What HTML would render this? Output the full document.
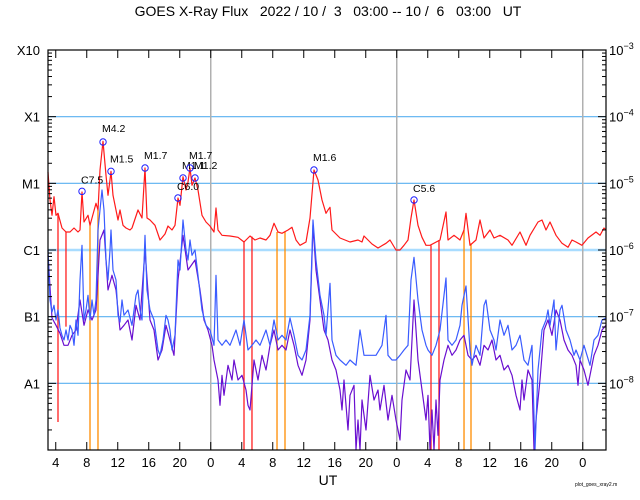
<!DOCTYPE html>
<html><head><meta charset="utf-8"><style>
html,body{margin:0;padding:0;background:#fff;width:640px;height:500px;overflow:hidden}
svg{display:block;font-family:"Liberation Sans",sans-serif}
</style></head><body>
<svg id="chart" width="640" height="500" viewBox="0 0 640 500" xmlns="http://www.w3.org/2000/svg">
<text x="328" y="45" text-anchor="middle" font-size="14" xml:space="preserve" transform="translate(0,-29)">GOES X-Ray Flux   2022 / 10 /  3   03:00 -- 10 /  6   03:00   UT</text>
<g id="grid"></g>
<g id="series"></g>
<g id="axes"></g>
<text x="328" y="485" text-anchor="middle" font-size="14">UT</text>
<text x="575" y="486" font-size="5">plot_goes_xray2.m</text>
</svg>
<script>
// times in hours since 10/3 03:00 UT, values are log10(flux W/m^2)
const longT=[0,.26,.52,.77,1.03,1.29,1.81,2.32,2.84,3.35,3.87,4.13,4.39,4.65,5.16,5.42,5.68,6.19,6.45,6.71,7.10,7.48,7.74,8.00,8.13,8.39,9.03,9.29,9.68,10.06,10.58,10.84,11.61,12.13,12.52,12.77,13.16,13.81,14.45,15.10,15.48,16.00,16.39,16.77,17.03,17.42,17.81,18.06,18.32,18.58,18.97,19.35,19.87,20.39,20.90,21.42,21.68,21.94,22.45,23.48,24.52,25.29,26.06,26.71,27.35,28.13,28.65,29.16,29.68,30.19,30.97,31.48,32.00,32.52,33.29,33.81,34.32,34.84,35.35,35.87,36.13,36.39,36.65,37.68,38.97,40.00,40.52,40.77,41.29,41.81,42.58,43.61,44.13,44.90,45.42,45.94,46.45,46.84,47.23,47.74,48.26,48.77,49.29,50.58,51.35,51.61,52.39,53.16,53.68,53.94,54.45,55.23,55.74,56.26,57.03,57.55,58.32,59.35,59.87,60.90,61.68,62.19,63.23,63.74,64.26,64.77,65.55,66.32,67.10,67.61,68.13,68.90,69.68,70.71,71.23,71.74,72.00];
const longV=[-4.83,-5.25,-5.48,-5.2,-5.48,-5.45,-5.67,-5.73,-5.73,-5.67,-5.73,-5.70,-5.13,-5.58,-5.48,-5.63,-5.52,-5.30,-5.40,-4.80,-4.37,-4.88,-5.18,-4.95,-4.82,-5.18,-5.55,-5.40,-5.63,-5.67,-5.70,-5.67,-5.40,-5.52,-4.77,-5.52,-5.55,-5.63,-5.85,-5.76,-5.64,-5.70,-5.63,-5.22,-5.33,-4.9,-5.10,-4.98,-4.77,-5.03,-4.92,-5.10,-5.48,-5.58,-5.64,-5.73,-5.37,-5.70,-5.78,-5.79,-5.81,-5.88,-5.79,-5.85,-5.82,-5.85,-5.78,-5.60,-5.73,-5.75,-5.70,-5.66,-5.85,-5.93,-5.88,-5.52,-4.80,-4.95,-5.25,-5.45,-5.40,-5.36,-5.70,-5.82,-5.88,-5.85,-5.88,-5.79,-5.85,-5.91,-5.97,-5.90,-5.85,-6.00,-6.00,-5.93,-5.85,-5.52,-5.25,-5.63,-5.81,-5.93,-5.93,-5.85,-5.43,-5.85,-5.78,-5.85,-5.70,-5.45,-5.93,-5.85,-5.55,-5.82,-5.70,-5.82,-5.78,-5.85,-5.93,-5.73,-5.93,-5.78,-5.58,-5.55,-5.70,-5.58,-5.78,-5.90,-5.96,-5.85,-5.88,-5.93,-5.82,-5.73,-5.78,-5.67,-5.70];
const shortT=[0,.26,.52,.77,1.03,1.29,1.55,1.81,2.06,2.32,2.58,2.84,3.10,3.35,3.61,3.87,4.13,4.39,4.65,4.90,5.16,5.42,5.68,5.94,6.19,6.45,6.71,6.97,7.23,7.48,7.74,8.00,8.13,8.39,8.77,9.03,9.29,9.55,9.81,10.32,10.84,11.35,11.61,11.87,12.13,12.52,12.77,13.16,13.68,14.19,14.45,14.84,15.23,15.48,15.74,16.00,16.39,16.77,17.03,17.42,17.81,18.06,18.32,18.58,18.97,19.35,19.87,20.39,20.90,21.42,21.68,21.94,22.45,22.97,23.48,24.26,24.77,25.29,25.81,26.32,26.84,27.35,28.13,28.65,29.16,29.68,30.19,30.71,31.23,31.74,32.26,32.77,33.29,33.81,34.19,34.58,35.10,35.61,35.87,36.39,36.65,37.16,37.68,38.45,38.97,39.74,40.26,40.77,41.55,42.32,43.10,43.61,43.87,44.39,44.90,45.42,45.94,46.45,46.84,47.23,47.74,48.26,48.77,49.03,49.55,50.06,50.58,51.35,51.61,52.13,52.65,53.16,53.42,53.94,54.45,54.71,55.23,55.74,56.26,56.52,57.03,57.55,57.81,58.32,58.84,59.35,59.87,60.39,60.90,61.42,61.94,62.45,62.84,63.23,63.74,64.26,64.52,64.77,65.29,65.55,66.06,66.32,66.84,67.35,67.87,68.13,68.65,69.16,69.94,70.45,70.97,71.48,72.00];
const shortV=[-6.00,-6.75,-6.93,-6.83,-7.05,-6.90,-7.17,-7.28,-7.35,-7.20,-7.35,-7.13,-7.20,-7.43,-7.05,-7.28,-6.45,-5.93,-7.05,-6.90,-6.68,-7.05,-6.75,-6.98,-6.75,-5.70,-5.40,-5.10,-5.40,-6.15,-6.45,-6.00,-5.70,-6.30,-6.45,-6.98,-7.08,-6.75,-6.98,-6.90,-7.13,-6.68,-6.60,-6.90,-7.05,-5.78,-6.60,-6.90,-7.05,-7.50,-7.58,-7.35,-6.98,-7.05,-7.20,-7.50,-7.28,-6.15,-6.30,-5.55,-6.00,-6.15,-5.85,-6.08,-6.00,-6.38,-6.90,-7.13,-7.20,-7.43,-6.38,-7.35,-7.43,-7.35,-7.43,-7.20,-7.43,-7.05,-7.50,-7.43,-7.35,-7.43,-7.20,-7.43,-7.05,-7.35,-7.28,-7.35,-7.02,-7.28,-7.58,-7.65,-7.50,-6.98,-5.55,-6.15,-6.68,-6.98,-7.28,-6.50,-7.35,-7.58,-7.65,-7.73,-7.65,-7.73,-7.20,-7.58,-7.58,-7.58,-7.43,-6.98,-7.58,-7.65,-7.65,-7.58,-7.50,-7.43,-6.45,-6.11,-6.75,-7.20,-7.43,-7.50,-7.58,-7.43,-7.20,-6.42,-7.35,-7.43,-7.35,-7.13,-6.83,-6.54,-7.50,-7.73,-7.43,-7.58,-6.83,-6.75,-7.20,-7.35,-7.50,-7.05,-7.28,-7.13,-7.50,-7.43,-7.28,-7.65,-7.73,-7.43,-9.00,-7.80,-7.20,-7.05,-6.90,-7.13,-6.75,-7.50,-6.90,-6.83,-7.20,-7.35,-7.58,-7.50,-7.65,-7.43,-7.73,-7.35,-7.28,-7.05,-7.02];
const shortPriT=[0,.52,1.03,1.55,2.06,2.58,3.10,3.61,4.13,4.65,5.16,5.68,6.19,6.71,7.23,7.74,8.26,8.77,9.29,9.81,10.32,10.84,11.35,11.87,12.52,13.16,13.68,14.19,14.71,15.23,15.74,16.26,16.77,17.42,18.06,18.97,19.61,20.13,20.65,21.16,21.42,21.68,21.94,22.19,22.45,22.71,23.23,23.74,24.00,24.52,25.03,25.55,25.81,26.06,26.32,26.58,27.10,27.61,28.13,28.65,29.16,29.68,30.19,30.71,31.23,31.74,32.26,32.77,33.29,33.81,34.19,34.58,35.10,35.61,36.13,36.65,37.16,37.68,37.94,38.19,38.71,38.97,39.48,39.74,40.00,40.26,40.52,41.03,41.55,42.06,42.58,42.84,43.35,43.87,44.39,44.90,45.42,45.68,46.19,46.71,47.23,47.74,48.26,48.77,49.03,49.29,49.55,49.81,50.06,50.32,50.58,51.10,51.61,52.13,52.65,53.16,53.68,54.19,54.71,55.23,55.74,56.26,56.77,57.29,57.81,58.32,58.84,59.35,59.87,60.39,60.90,61.16,61.42,61.94,62.45,62.71,62.97,63.23,63.48,64.00,64.52,65.03,65.55,66.06,66.58,67.10,67.61,68.13,68.39,68.65,69.16,69.68,69.94,70.45,70.97,71.48,72.00];
const shortPriV=[-6.08,-7.02,-7.13,-7.25,-7.43,-7.43,-7.28,-7.20,-6.75,-7.13,-6.90,-7.05,-6.90,-5.85,-5.70,-6.60,-6.38,-6.60,-7.20,-7.13,-7.05,-7.35,-6.83,-7.05,-6.00,-7.05,-7.20,-7.65,-7.50,-7.13,-7.35,-7.58,-6.45,-5.78,-6.30,-6.15,-6.60,-7.05,-7.20,-7.43,-7.65,-7.80,-7.95,-8.33,-7.88,-8.18,-7.73,-7.95,-7.65,-7.95,-7.88,-8.10,-8.33,-8.40,-8.03,-7.65,-7.95,-7.58,-7.80,-7.43,-7.20,-7.50,-7.43,-7.50,-7.20,-7.43,-7.73,-7.88,-7.65,-7.05,-5.63,-6.30,-6.75,-7.20,-7.35,-7.65,-7.80,-8.10,-8.40,-7.95,-8.70,-8.18,-8.03,-9.00,-8.55,-9.00,-8.25,-8.70,-7.88,-8.25,-8.10,-8.40,-8.03,-8.55,-8.18,-8.55,-8.85,-8.25,-7.80,-7.95,-6.75,-7.65,-8.10,-8.55,-8.18,-9.00,-8.40,-9.00,-8.25,-8.78,-7.95,-7.65,-7.43,-7.58,-7.50,-7.35,-7.28,-7.58,-7.65,-7.58,-7.73,-7.43,-7.50,-7.35,-7.65,-7.58,-7.80,-7.73,-7.88,-8.18,-8.40,-7.95,-8.25,-7.80,-7.95,-9.00,-8.55,-8.25,-7.95,-7.20,-7.05,-7.28,-6.90,-7.05,-7.35,-7.50,-7.58,-7.73,-8.03,-7.65,-7.80,-8.03,-7.88,-7.58,-7.43,-7.20,-7.13];
// data-gap marks
const gapT=[1.29,2.32,5.42,6.45,25.29,26.32,29.55,30.58,49.42,50.45,53.68,54.58];
const gapTop=[-5.45,-5.73,-5.63,-5.40,-5.88,-5.80,-5.73,-5.72,-5.93,-5.85,-5.70,-5.90];
const gapBottom=[-8.58,-7.15,-9,-9,-9,-9,-9,-9,-9,-9,-9,-9];
const gapColor=["#ff2020","#ff2020","#ff8c00","#ff8c00","#ff2020","#ff2020","#ff8c00","#ff8c00","#ff2020","#ff2020","#ff8c00","#ff8c00"];
// flare peaks
const flareLabel=["C7.5","M4.2","M1.5","M1.7","C6.0","M1.1","M1.7","M1.2","M1.6","C5.6"];
const flareT=[4.39,7.10,8.13,12.52,16.77,17.42,18.32,18.97,34.32,47.23];
const flareV=[-5.12,-4.38,-4.82,-4.77,-5.22,-4.92,-4.77,-4.92,-4.80,-5.25];
const flareDy=[-8,-10,-9,-9,-8,-9,-9,-9,-9,-8];
const decadeLeft=["X10","X1","M1","C1","B1","A1"];
const decadeRight=["-3","-4","-5","-6","-7","-8"];
const hourLabels=["4","8","12","16","20","0","4","8","12","16","20","0","4","8","12","16","20","0"];

const NS="http://www.w3.org/2000/svg";
const X0=48,X1=606,Y0=50,Y1=450,TMAX=72,LMIN=-9,LMAX=-3;
const xs=t=>X0+(X1-X0)*t/TMAX;
const ys=v=>Y1-(Y1-Y0)*(v-LMIN)/(LMAX-LMIN);
function mk(tag,attrs,parent){const e=document.createElementNS(NS,tag);for(const k in attrs)e.setAttribute(k,attrs[k]);parent.appendChild(e);return e;}
const grid=document.getElementById('grid'),ser=document.getElementById('series'),ax=document.getElementById('axes');

// horizontal grid
for(let d=-8;d<=-4;d++){
  const l=mk('line',{x1:X0,x2:X1,y1:ys(d),y2:ys(d),stroke:d===-6?'#a8dcff':'#5ab0f0','stroke-width':d===-6?2.5:1.2},grid);
  
  
}
// day boundaries
[21,45,69].forEach(t=>{
  const l=mk('line',{x1:xs(t),x2:xs(t),y1:Y0,y2:Y1,stroke:'#b0b0b0','stroke-width':1.5},grid);
  
  
});

function poly(T,V,color,name,w){
  const p=mk('polyline',{points:T.map((t,i)=>xs(t).toFixed(1)+','+ys(Math.max(LMIN,V[i])).toFixed(1)).join(' '),fill:'none',stroke:color,'stroke-width':w,'stroke-linejoin':'round'},ser);
  
  
}
gapT.forEach((t,i)=>{
  const l=mk('line',{x1:xs(t),x2:xs(t),y1:ys(gapTop[i]),y2:ys(gapBottom[i]),stroke:gapColor[i],'stroke-width':1.3},ser);
  
  
});
poly(shortPriT,shortPriV,'#6a0fd0','short-channel-primary-line',1.2);
poly(shortT,shortV,'#3a5cff','short-channel-line',1.2);
poly(longT,longV,'#ff1a1a','long-channel-line',1.2);

flareT.forEach((t,i)=>{
  const c=mk('circle',{cx:xs(t),cy:ys(flareV[i]),r:3.2,fill:'none',stroke:'#2020ff','stroke-width':1},ser);
  
  
  const tx=mk('text',{x:xs(t)-1,y:ys(flareV[i])+flareDy[i],'font-size':10.5,fill:'#000'},ser);
  tx.textContent=flareLabel[i];
  
  
});

// frame
const fr=mk('rect',{x:X0,y:Y0,width:X1-X0,height:Y1-Y0,fill:'none',stroke:'#000','stroke-width':1.2},ax);


// y ticks
for(let d=-9;d<-3;d++){
  for(let m=1;m<10;m++){
    const y=ys(d+Math.log10(m));const len=m===1?8:4;
    mk('line',{x1:X0,x2:X0+len,y1:y,y2:y,stroke:'#000','stroke-width':1},ax);
    mk('line',{x1:X1-len,x2:X1,y1:y,y2:y,stroke:'#000','stroke-width':1},ax);
  }
}
decadeLeft.forEach((s,i)=>{
  const t=mk('text',{x:40,y:ys(-3-i)+5,'text-anchor':'end','font-size':13},ax);
  t.textContent=s;
  
  
});
decadeRight.forEach((s,i)=>{
  const t=mk('text',{x:609,y:ys(-3-i)+5,'font-size':13},ax);
  t.textContent='10';
  const sp=mk('tspan',{dy:-6,'font-size':9},t);
  sp.textContent=s.replace('-','\u2212');
  
  
});
// x ticks
hourLabels.forEach((s,i)=>{
  const x=xs(1+4*i);
  mk('line',{x1:x,x2:x,y1:Y1,y2:Y1-8,stroke:'#000','stroke-width':1},ax);
  mk('line',{x1:x,x2:x,y1:Y0,y2:Y0+8,stroke:'#000','stroke-width':1},ax);
  const t=mk('text',{x:x,y:467,'text-anchor':'middle','font-size':13},ax);
  t.textContent=s;
  
  
});
</script>
</body></html>
